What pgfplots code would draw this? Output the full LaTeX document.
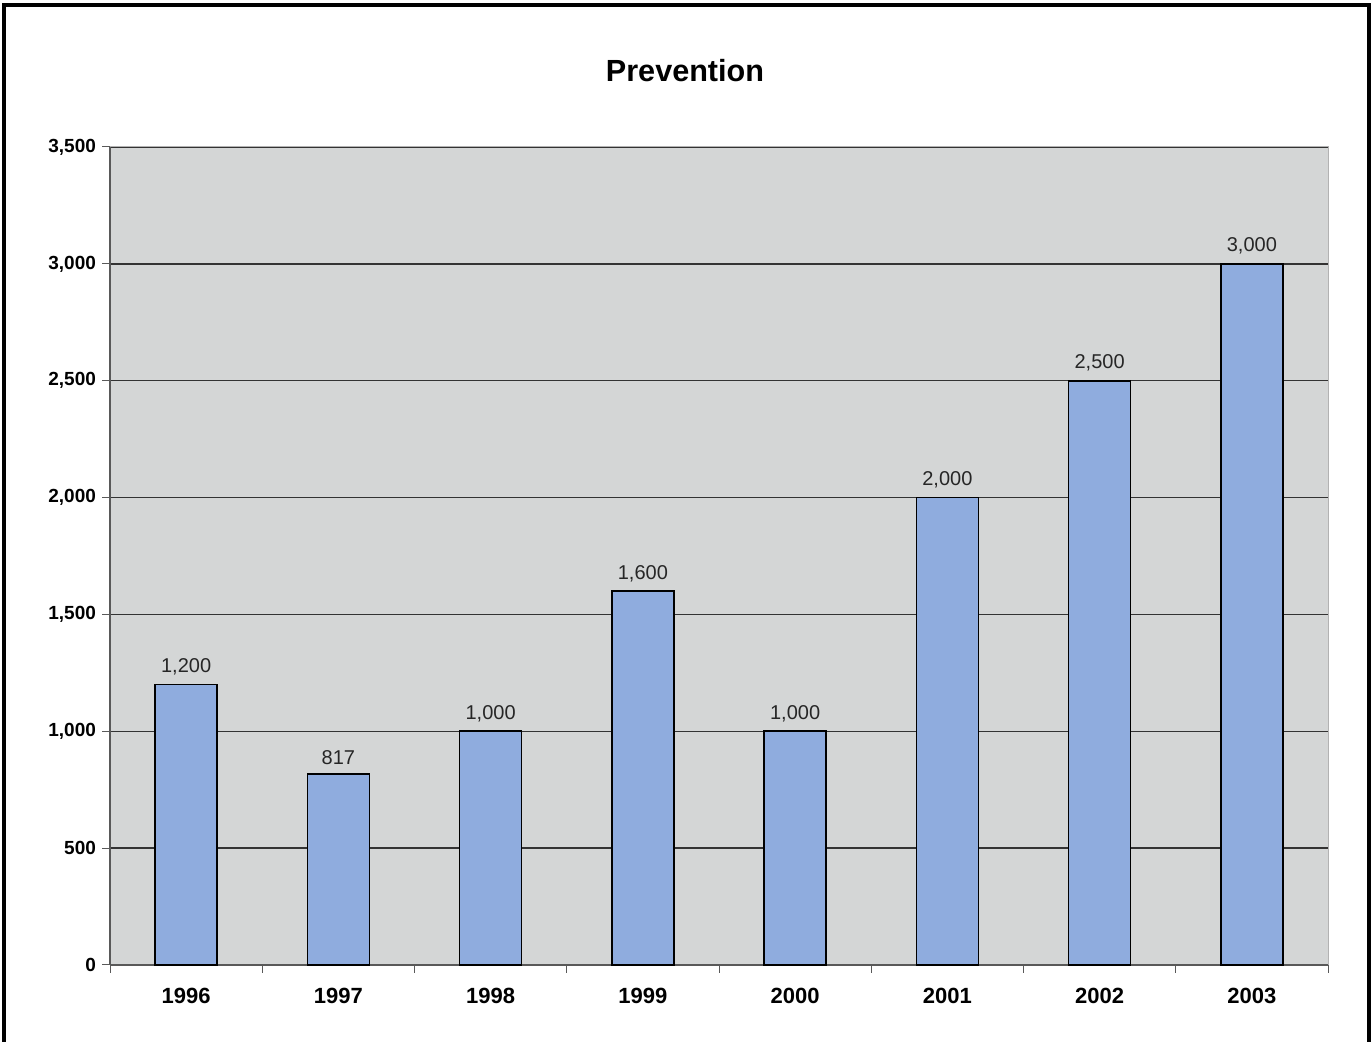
\documentclass[border=0pt]{standalone}
\usepackage{pgfplots}
\pgfplotsset{compat=1.18}
\usepackage{fontspec}
\setmainfont{Liberation Sans}
\definecolor{plotbg}{RGB}{212,214,214}
\definecolor{barblue}{RGB}{143,172,222}
\begin{document}
\begin{tikzpicture}
\path[use as bounding box] (0pt,0pt) rectangle (686pt,521pt);
\draw[line width=1.6pt,black] (2pt,-10pt) -- (2pt,518.5pt) -- (684.5pt,518.5pt) -- (684.5pt,-10pt);
\node[font=\fontsize{15.3}{18}\selectfont\bfseries] at (342.5pt,485.5pt) {Prevention};
\begin{axis}[
  at={(55pt,38.5pt)}, anchor=south west,
  scale only axis, width=609pt, height=409pt,
  xmin=0.5, xmax=8.5, ymin=0, ymax=3500,
  axis background/.style={fill=plotbg},
  axis line style={draw=gray!70!black, line width=0.6pt},
  axis x line*=bottom, axis y line*=left,
  xtick={1,...,8},
  xticklabels={1996,1997,1998,1999,2000,2001,2002,2003},
  minor xtick={0.5,1.5,...,8.5},
  major x tick style={draw=none},
  minor tick length=4pt,
  ytick={0,500,...,3500},
  major tick length=4pt,
  tick align=outside,
  tick style={draw=gray!70!black, line width=0.5pt},
  ymajorgrids,
  grid style={draw=black!80, line width=0.7pt},
  x tick label style={font=\fontsize{11}{13}\selectfont\bfseries, yshift=-4pt},
  y tick label style={font=\fontsize{9.5}{11}\selectfont\bfseries, xshift=0.5pt},
  /pgf/number format/.cd, 1000 sep={,}, assume math mode=true,
  /pgfplots/.cd,
  ybar, bar width=31pt,
  nodes near coords,
  every node near coord/.append style={font=\fontsize{10}{12}\selectfont, text=black!85, /pgf/number format/1000 sep={,}, /pgf/number format/assume math mode=true, yshift=1pt},
  clip=false,
]
\addplot[fill=barblue, draw=black, line width=0.8pt, bar shift=0pt] coordinates {
(1,1200) (2,817) (3,1000) (4,1600) (5,1000) (6,2000) (7,2500) (8,3000)
};
\draw[gray!60, line width=0.5pt] (axis cs:0.5,3500) -- (axis cs:8.5,3500) -- (axis cs:8.5,0);
\end{axis}
\end{tikzpicture}
\end{document}
